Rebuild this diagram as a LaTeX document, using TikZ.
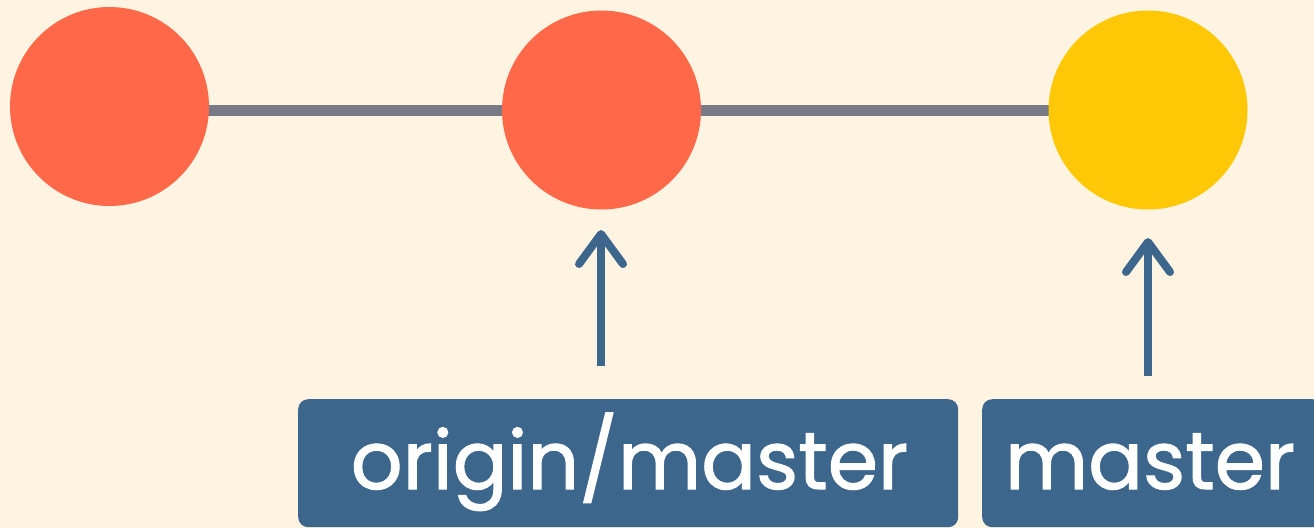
\documentclass[tikz,border=0pt]{standalone}
\usepackage{fontspec}
\setmainfont{Poppins}
\newfontfamily\lblfont[FakeBold=1.3]{Poppins}
\usetikzlibrary{arrows.meta}
\pgfdeclarelayer{background}
\pgfsetlayers{background,main}
\definecolor{bg}{HTML}{FFF3E1}
\definecolor{cred}{HTML}{FF6849}
\definecolor{cyellow}{HTML}{FFC806}
\definecolor{cgray}{HTML}{787B85}
\definecolor{cblue}{HTML}{3C668C}
\tikzset{
  commit/.style={circle, minimum size=199pt, inner sep=0pt, draw=none},
  edge/.style={draw=cgray, line width=11pt},
  pointer/.style={draw=cblue, line width=8pt, -{Straight Barb[length=30pt, width=44pt, round]}},
  label/.style={fill=cblue, rounded corners=10pt, inner sep=0pt, anchor=north west},
  labeltext/.style={text=white, font=\lblfont\fontsize{81}{84}\selectfont, anchor=base, inner sep=0pt},
}
\begin{document}
\begin{tikzpicture}[x=1pt, y=-1pt]
\begin{pgfonlayer}{background}
\fill[bg] (0,0) rectangle (1314,528);
\end{pgfonlayer}
\useasboundingbox (0,0) rectangle (1314,528);
\node[commit, fill=cred] (c1) at (109.5,106.5) {};
\node[commit, fill=cred] (c2) at (601.5,110) {};
\node[commit, fill=cyellow] (c3) at (1148,110) {};
\begin{pgfonlayer}{background}
\path[edge] (c1.center |- c2.center) -- (c2.center) -- (c3.center);
\end{pgfonlayer}
\node[label, minimum width=660pt, minimum height=128pt] (b1) at (298,399) {};
\node[labeltext] (t1) at (629.5,489) {origin/master};
\node[label, minimum width=340pt, minimum height=128pt] (b2) at (982,399) {};
\node[labeltext] (t2) at (1150,489) {master};
\coordinate (s1) at (601,366);
\coordinate (e1) at (601,230);
\coordinate (s2) at (1148,376);
\coordinate (e2) at (1148,238);
\draw[pointer] (s1) -- (e1);
\draw[pointer] (s2) -- (e2);
\end{tikzpicture}
\end{document}
